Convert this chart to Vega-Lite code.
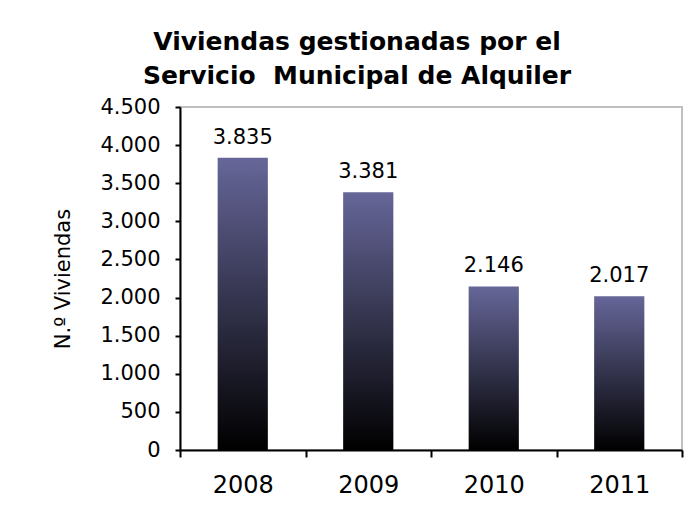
{
  "$schema": "https://vega.github.io/schema/vega-lite/v6.json",
  "width": 502,
  "height": 343,
  "autosize": "none",
  "padding": {"left": 180, "top": 107, "right": 18, "bottom": 72},
  "background": "white",
  "config": {
    "locale": {"number": {"decimal": ",", "thousands": ".", "grouping": [3], "currency": ["", " €"]}},
    "view": {"stroke": "#c0c0c0", "strokeWidth": 2},
    "font": "DejaVu Sans"
  },
  "title": {
    "text": ["Viviendas gestionadas por el", "Servicio \u00a0Municipal de Alquiler"],
    "font": "DejaVu Sans",
    "fontSize": 25,
    "fontWeight": "bold",
    "color": "black",
    "lineHeight": 34,
    "anchor": "middle",
    "frame": "group",
    "dx": -74,
    "offset": 7
  },
  "data": {
    "values": [
      {"year": "2008", "viviendas": 3835},
      {"year": "2009", "viviendas": 3381},
      {"year": "2010", "viviendas": 2146},
      {"year": "2011", "viviendas": 2017}
    ]
  },
  "encoding": {
    "x": {
      "field": "year",
      "type": "nominal",
      "scale": {"paddingInner": 0, "paddingOuter": 0},
      "axis": {
        "title": null,
        "labelAngle": 0,
        "labelFontSize": 24,
        "labelColor": "black",
        "labelPadding": 16,
        "tickSize": 7,
        "tickWidth": 2,
        "tickColor": "black",
        "tickBand": "extent",
        "domainColor": "black",
        "domainWidth": 2
      }
    },
    "y": {
      "field": "viviendas",
      "type": "quantitative",
      "scale": {"domain": [0, 4500], "nice": false},
      "axis": {
        "title": "N.º Viviendas",
        "titleFontSize": 21,
        "titleFontWeight": "normal",
        "titleColor": "black",
        "titlePadding": 26,
        "labelFontSize": 21,
        "labelColor": "black",
        "labelPadding": 15,
        "tickSize": 5,
        "tickWidth": 2,
        "tickColor": "black",
        "domainColor": "black",
        "domainWidth": 2,
        "grid": false,
        "values": [0, 500, 1000, 1500, 2000, 2500, 3000, 3500, 4000, 4500],
        "format": ",d"
      }
    }
  },
  "layer": [
    {
      "mark": {
        "type": "bar",
        "width": {"band": 0.4},
        "color": {
          "gradient": "linear",
          "x1": 0, "y1": 1, "x2": 0, "y2": 0,
          "stops": [
            {"offset": 0, "color": "#000000"},
            {"offset": 1, "color": "#666699"}
          ]
        }
      }
    },
    {
      "mark": {"type": "text", "baseline": "alphabetic", "dy": -14, "fontSize": 21, "color": "black", "font": "DejaVu Sans"},
      "encoding": {"text": {"field": "viviendas", "type": "quantitative", "format": ",d"}}
    }
  ]
}
